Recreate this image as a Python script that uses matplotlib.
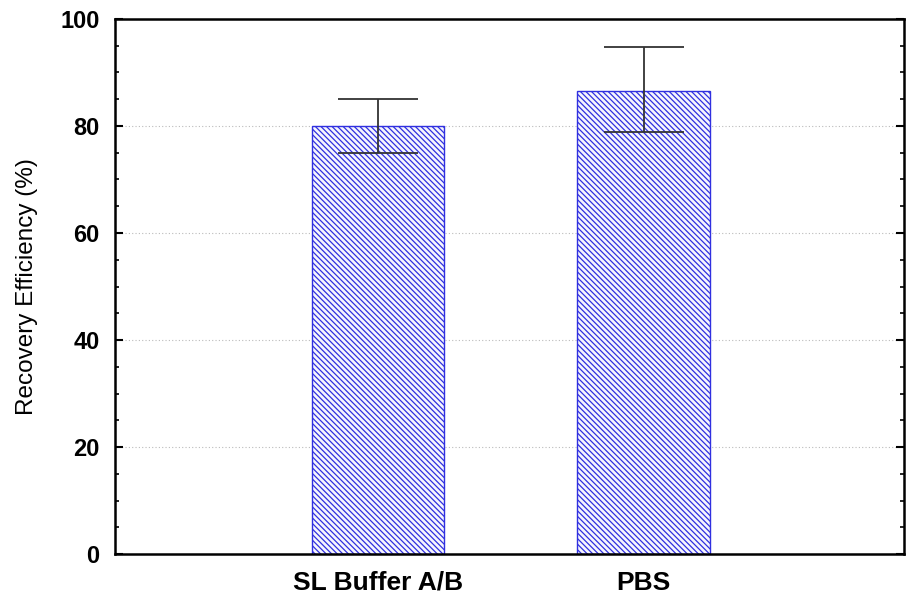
import matplotlib
matplotlib.use("Agg")
import matplotlib.pyplot as plt
from matplotlib.ticker import MultipleLocator

categories = ["SL Buffer A/B", "PBS"]
values = [80.0, 86.5]
err_low = [5.0, 7.7]
err_high = [5.0, 8.3]

plt.rcParams['font.family'] = ['Liberation Sans', 'DejaVu Sans']
plt.rcParams['hatch.color'] = '#7878dc'
plt.rcParams['hatch.linewidth'] = 0.9

fig = plt.figure(figsize=(9.08, 5.98), dpi=100)
ax = fig.add_axes([115/908, 1-554/598, (904-115)/908, (554-19)/598])

x = list(range(len(categories)))
ax.bar(x, values, width=0.5, color='#f6f6fd', edgecolor='#3030e0',
       linewidth=1.0, hatch='\\' * 6, zorder=2)
ax.errorbar(x, values, yerr=[err_low, err_high], fmt='none', ecolor='#333333',
            elinewidth=1.3, capsize=29, capthick=1.3, zorder=3)

ax.set_xlim(-0.99, 1.98)
ax.set_ylim(0, 100)
ax.set_xticks(x)
ax.set_xticklabels(categories, fontsize=19, fontweight='bold')
ax.tick_params(axis='x', length=0, pad=12)
ax.yaxis.set_major_locator(MultipleLocator(20))
ax.yaxis.set_minor_locator(MultipleLocator(5))
ax.tick_params(axis='y', which='major', direction='in', length=6, width=1.5,
               right=True, labelsize=17, pad=11)
ax.tick_params(axis='y', which='minor', direction='in', length=3, width=1.2, right=True)
for lbl in ax.get_yticklabels():
    lbl.set_fontweight('bold')
ax.grid(axis='y', which='major', linestyle=(0, (1, 2)), color='#bbbbbb', linewidth=0.8, zorder=0)
ax.set_axisbelow(True)
for s in ax.spines.values():
    s.set_linewidth(1.8)
ax.set_ylabel("Recovery Efficiency (%)", fontsize=17.5, labelpad=16)

fig.savefig("out.png", dpi=100)
